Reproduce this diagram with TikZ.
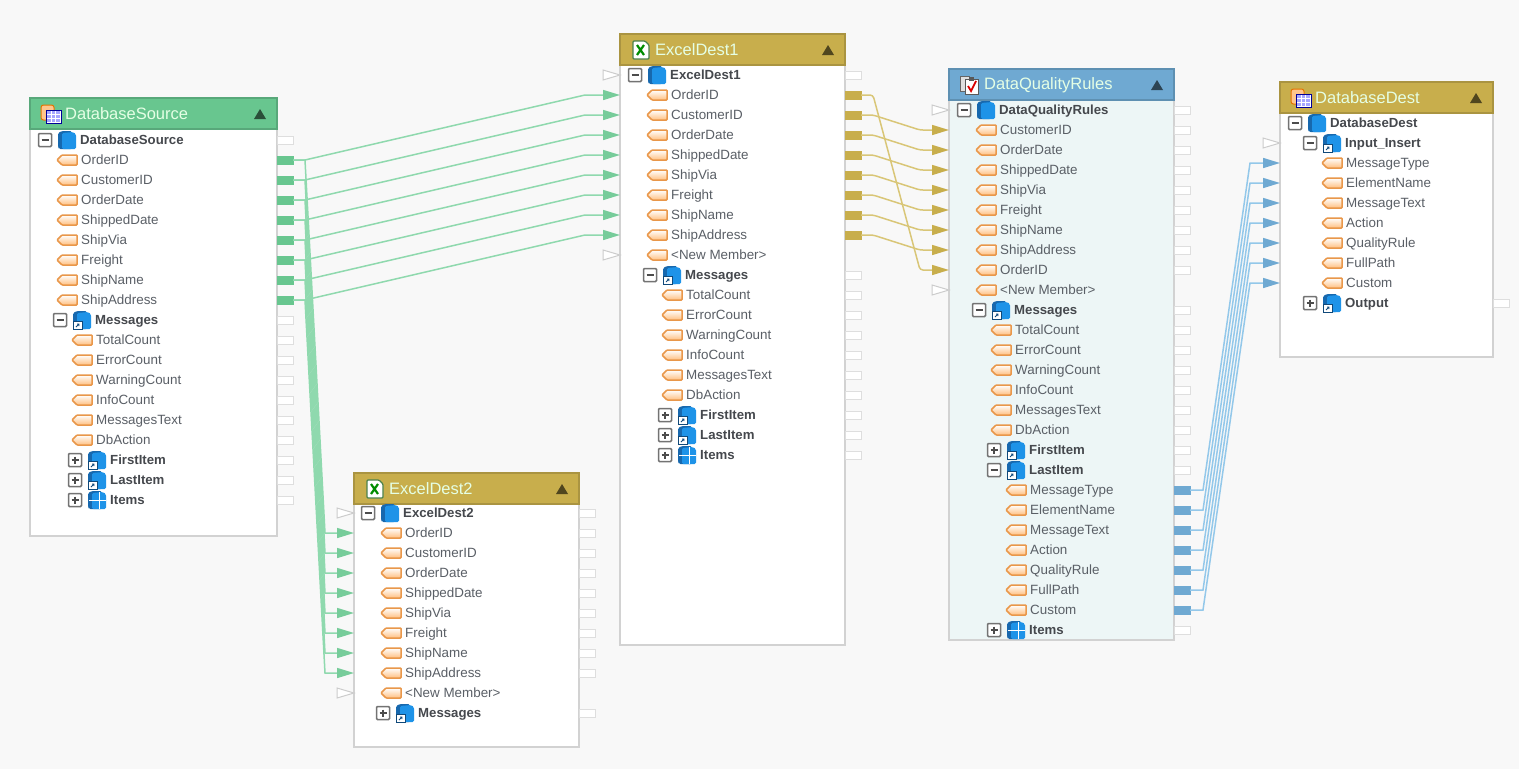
\documentclass[tikz,border=0pt]{standalone}
\usepackage{fontspec}
\setmainfont{Liberation Sans}
\usetikzlibrary{arrows.meta,shapes.geometric}

\definecolor{canvasgray}{HTML}{F8F8F8}
\definecolor{boxline}{HTML}{D2D2D2}
\definecolor{headgreen}{HTML}{68C68F}
\definecolor{headgold}{HTML}{C8AE4C}
\definecolor{headblue}{HTML}{6FA9D2}
\definecolor{wiregreen}{HTML}{8FD9AE}
\definecolor{wiregold}{HTML}{D9C677}
\definecolor{wireblue}{HTML}{93C8EA}
\definecolor{rowtext}{HTML}{5A5F66}
\definecolor{boldtext}{HTML}{45484D}
\definecolor{dqfill}{HTML}{EDF6F6}
\definecolor{tagline}{HTML}{E9974A}
\definecolor{cubedark}{HTML}{1768AE}
\definecolor{cubelight}{HTML}{1E93E8}

\tikzset{
    bodybox/.style={draw=boxline, line width=1.5pt, anchor=north west, inner sep=0pt, outer sep=0pt},
    headbox/.style={line width=1.5pt, anchor=north west, inner sep=0pt, outer sep=0pt, minimum height=31pt},
    titletext/.style={anchor=west, inner sep=0pt, text=white!90!green, font=\fontsize{16.5}{18}\selectfont},
    fieldtext/.style={anchor=west, inner sep=0pt, text=rowtext, text height=10pt, text depth=3pt, font=\fontsize{13.4}{15}\selectfont},
    grouptext/.style={fieldtext, text=boldtext, font=\fontsize{13.2}{15}\selectfont\bfseries},
    port/.style={draw=black!13, fill=white, line width=1pt, anchor=west, inner sep=0pt, outer sep=0pt, minimum width=16pt, minimum height=8pt},
    portfull/.style={port, draw=#1, fill=#1},
    emptyin/.style={draw=black!20, fill=white, line width=1pt, isosceles triangle, isosceles triangle stretches, inner sep=0pt, outer sep=0pt, minimum width=10pt, minimum height=17pt, anchor=apex},
    wire/.style 2 args={draw=#1, line width=1.5pt, -{Triangle[length=17pt,width=10pt,color=#2]}},
    tagicon/.pic={
        \draw[draw=tagline, line width=1.5pt, top color=white, bottom color=orange!50, rounded corners=0.8pt]
            (0,0) -- (5,-5) -- (20,-5) -- (20,5) -- (5,5) -- cycle;
    },
    cubeicon/.pic={
        \fill[cubedark, rounded corners=1.5pt] (0,-7) -- (4,-9) -- (14,-9) -- (14,9) -- (1,9) -- (0,7) -- cycle;
        \fill[cubelight, rounded corners=1.5pt] (4,-7) -- (15,-8) -- (18,-6) -- (18,9) -- (4,9) -- cycle;
    },
    linkicon/.pic={
        \pic {cubeicon};
        \draw[draw=cubedark!70!black, fill=white, line width=1pt] (0,1) rectangle (9,9.5);
        \draw[cubedark!70!black, line width=0.8pt] (3,7) -- (6,4) (4,4) -- (6,4) -- (6,6);
    },
    gridicon/.pic={
        \pic {cubeicon};
        \draw[white, line width=1pt] (11,-8) -- (11,9) (1,0) -- (18,0);
    },
    plusbox/.pic={
        \draw[draw=black!55, fill=white, line width=1.5pt, rounded corners=1pt] (-6.5,-6.5) rectangle (6.5,6.5);
        \draw[black!70, line width=1.2pt] (-3.5,0) -- (3.5,0) (0,-3.5) -- (0,3.5);
    },
    minusbox/.pic={
        \draw[draw=black!55, fill=white, line width=1.5pt, rounded corners=1pt] (-6.5,-6.5) rectangle (6.5,6.5);
        \draw[black!70, line width=1.2pt] (-3.5,0) -- (3.5,0);
    },
    dbicon/.pic={
        \draw[draw=orange!90!black, fill=orange!45, line width=1pt, rounded corners=2.5pt] (0,-9) rectangle (13,6);
        \draw[draw=blue!60!black, fill=white, line width=1pt] (5,-4) rectangle (20,9);
        \fill[blue!35] (6,-3) rectangle (19,8);
        \draw[white, line width=0.7pt] (10,-3) -- (10,8) (14.5,-3) -- (14.5,8) (6,0.5) -- (19,0.5) (6,4.5) -- (19,4.5);
    },
    xlsicon/.pic={
        \draw[draw=green!30!black!70, fill=white, line width=1.2pt, rounded corners=1pt] (2,-9) -- (14,-9) -- (18,-5) -- (18,9) -- (2,9) -- cycle;
        \draw[green!55!black, line width=2.2pt] (6,-5) -- (13,5) (13,-5) -- (6,5);
    },
    dqicon/.pic={
        \draw[draw=black!60, fill=black!12, line width=1pt] (0,-9) rectangle (9,6);
        \draw[draw=black!65, fill=white, line width=1pt] (5,-6) rectangle (18,9);
        \fill[black!65] (9,-8) rectangle (14,-4);
        \draw[red!85!black, line width=1.8pt] (8,1) -- (11,6) -- (16,-4);
    },
    foldtri/.pic={
        \fill (-6,5) -- (0,-5) -- (6,5) -- cycle;
    },
}

% name, left, top, width, body height, colour, body fill, icon, title
\newcommand{\tablebox}[9]{
    \node[bodybox, fill=#7, minimum width=#4pt, minimum height=#5pt] (#1) at (#2,#3+31) {};
    \node[headbox, draw=#6!85!black, fill=#6, minimum width=#4pt] (#1head) at (#2,#3) {};
    \pic at (#2+11,#3+16) {#8};
    \node[titletext] (#1title) at (#2+35,#3+16) {#9};
    \pic[#6!40!black] at (#2+#4-17,#3+16) {foldtri};
}
% name, tag x, first y, list of members
\newcommand{\fieldrows}[4]{
    \foreach \fname [count=\i from 0] in {#4} {
        \pgfmathsetmacro{\rowy}{#3+20*\i}
        \pic at (#2,\rowy) {tagicon};
        \node[fieldtext] (#1t\i) at (#2+24,\rowy+1) {\fname};
    }
}
% name, box x, y, plusbox or minusbox, icon, label
\newcommand{\grouprow}[6]{
    \pic at (#2,#3) {#4};
    \pic at (#2+13,#3) {#5};
    \node[grouptext] (#1) at (#2+35,#3+1) {#6};
}

\begin{document}
\begin{tikzpicture}[x=1pt,y=-1pt]
    \useasboundingbox (0,0) rectangle (1519,769);
    \fill[canvasgray] (0,0) rectangle (1519,769);

    % source table
    \tablebox{ds}{30}{98}{247}{407}{headgreen}{white}{dbicon}{DatabaseSource}
    \grouprow{dsroot}{45}{140}{minusbox}{cubeicon}{DatabaseSource}
    \fieldrows{dsa}{57}{160}{OrderID,CustomerID,OrderDate,ShippedDate,ShipVia,Freight,ShipName,ShipAddress}
    \grouprow{dsmsg}{60}{320}{minusbox}{linkicon}{Messages}
    \fieldrows{dsb}{72}{340}{TotalCount,ErrorCount,WarningCount,InfoCount,MessagesText,DbAction}
    \grouprow{dsfirst}{75}{460}{plusbox}{linkicon}{FirstItem}
    \grouprow{dslast}{75}{480}{plusbox}{linkicon}{LastItem}
    \grouprow{dsitems}{75}{500}{plusbox}{gridicon}{Items}
    \foreach \y in {140,320,340,360,380,400,420,440,460,480,500}
        \node[port] (dsw\y) at (277,\y) {};
    \foreach \i in {1,...,8}
        \node[portfull=headgreen] (dsp\i) at (277,140+20*\i) {};

    % first excel table
    \tablebox{eo}{620}{34}{225}{580}{headgold}{white}{xlsicon}{ExcelDest1}
    \grouprow{eoroot}{635}{75}{minusbox}{cubeicon}{ExcelDest1}
    \fieldrows{eoa}{647}{95}{OrderID,CustomerID,OrderDate,ShippedDate,ShipVia,Freight,ShipName,ShipAddress,<New Member>}
    \grouprow{eomsg}{650}{275}{minusbox}{linkicon}{Messages}
    \fieldrows{eob}{662}{295}{TotalCount,ErrorCount,WarningCount,InfoCount,MessagesText,DbAction}
    \grouprow{eofirst}{665}{415}{plusbox}{linkicon}{FirstItem}
    \grouprow{eolast}{665}{435}{plusbox}{linkicon}{LastItem}
    \grouprow{eoitems}{665}{455}{plusbox}{gridicon}{Items}
    \foreach \y in {75,275,295,315,335,355,375,395,415,435,455}
        \node[port] (eow\y) at (845,\y) {};
    \foreach \i in {1,...,8} {
        \node[portfull=headgold] (eop\i) at (845,75+20*\i) {};
        \coordinate (eoc\i) at (620,75+20*\i);
    }
    \node[emptyin] (eoin1) at (620,75) {};
    \node[emptyin] (eoin2) at (620,255) {};

    % second excel table
    \tablebox{et}{354}{473}{225}{243}{headgold}{white}{xlsicon}{ExcelDest2}
    \grouprow{etroot}{368}{513}{minusbox}{cubeicon}{ExcelDest2}
    \fieldrows{eta}{381}{533}{OrderID,CustomerID,OrderDate,ShippedDate,ShipVia,Freight,ShipName,ShipAddress,<New Member>}
    \grouprow{etmsg}{383}{713}{plusbox}{linkicon}{Messages}
    \foreach \y in {513,533,553,573,593,613,633,653,673,713}
        \node[port] (etw\y) at (579,\y) {};
    \foreach \i in {1,...,8}
        \coordinate (etc\i) at (354,513+20*\i);
    \node[emptyin] (etin1) at (354,513) {};
    \node[emptyin] (etin2) at (354,693) {};

    % rules table
    \tablebox{dq}{949}{69}{225}{540}{headblue}{dqfill}{dqicon}{DataQualityRules}
    \grouprow{dqroot}{964}{110}{minusbox}{cubeicon}{DataQualityRules}
    \fieldrows{dqa}{976}{130}{CustomerID,OrderDate,ShippedDate,ShipVia,Freight,ShipName,ShipAddress,OrderID,<New Member>}
    \grouprow{dqmsg}{979}{310}{minusbox}{linkicon}{Messages}
    \fieldrows{dqb}{991}{330}{TotalCount,ErrorCount,WarningCount,InfoCount,MessagesText,DbAction}
    \grouprow{dqfirst}{994}{450}{plusbox}{linkicon}{FirstItem}
    \grouprow{dqlast}{994}{470}{minusbox}{linkicon}{LastItem}
    \fieldrows{dqc}{1006}{490}{MessageType,ElementName,MessageText,Action,QualityRule,FullPath,Custom}
    \grouprow{dqitems}{994}{630}{plusbox}{gridicon}{Items}
    \foreach \y in {110,130,150,170,190,210,230,250,270,310,330,350,370,390,410,430,450,470,630}
        \node[port] (dqw\y) at (1174,\y) {};
    \foreach \i in {1,...,7}
        \node[portfull=headblue] (dqp\i) at (1174,470+20*\i) {};
    \foreach \i in {1,...,8}
        \coordinate (dqc\i) at (949,110+20*\i);
    \node[emptyin] (dqin1) at (949,110) {};
    \node[emptyin] (dqin2) at (949,290) {};

    % destination table
    \tablebox{dd}{1280}{82}{213}{244}{headgold}{white}{dbicon}{DatabaseDest}
    \grouprow{ddroot}{1295}{123}{minusbox}{cubeicon}{DatabaseDest}
    \grouprow{ddinput}{1310}{143}{minusbox}{linkicon}{Input\_Insert}
    \fieldrows{dda}{1322}{163}{MessageType,ElementName,MessageText,Action,QualityRule,FullPath,Custom}
    \grouprow{ddoutput}{1310}{303}{plusbox}{linkicon}{Output}
    \node[port] (ddw303) at (1493,303) {};
    \foreach \i in {1,...,7}
        \coordinate (ddc\i) at (1280,143+20*\i);
    \node[emptyin] (ddin1) at (1280,143) {};

    % connectors
    \foreach \i in {1,...,8} {
        \draw[wire={wiregreen}{headgreen!90!white}] (dsp\i.east) -- ++(12,0) -- ([xshift=-35pt]eoc\i) -- (eoc\i);
        \draw[wire={wiregreen}{headgreen!90!white}] (dsp\i.east) -- ++(12,0) -- ([xshift=-29pt]etc\i) -- (etc\i);
    }
    \foreach \i/\j in {1/8,2/1,3/2,4/3,5/4,6/5,7/6,8/7}
        \draw[wire={wiregold}{headgold}, rounded corners=3pt] (eop\i.east) -- ++(12,0) -- ([xshift=-29pt]dqc\j) -- (dqc\j);
    \foreach \i in {1,...,7}
        \draw[wire={wireblue}{headblue}] (dqp\i.east) -- ++(13,0) -- ([xshift=-30pt]ddc\i) -- (ddc\i);
\end{tikzpicture}
\end{document}
